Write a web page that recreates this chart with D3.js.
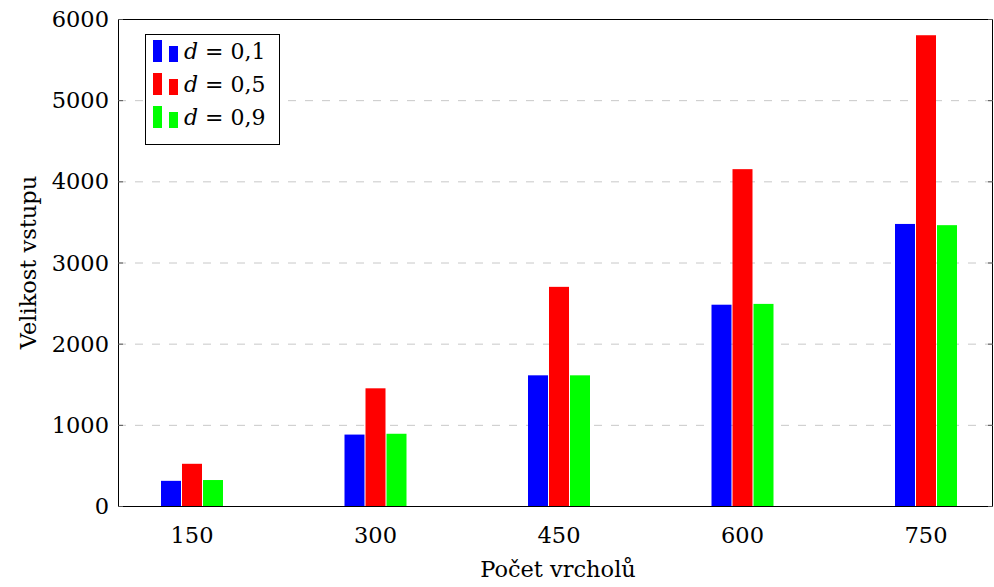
<!DOCTYPE html>
<html>
<head>
<meta charset="utf-8">
<script src="https://cdn.jsdelivr.net/npm/d3@7"></script>
<style>
  body { margin: 0; background: #fff; }
</style>
</head>
<body>
<div id="chart"></div>
<script>
const categories = [150, 300, 450, 600, 750];
const seriesNames = ['0,1', '0,5', '0,9'];
const seriesColors = ['#0000ff', '#ff0000', '#00ff00'];
const valuesD01 = [310, 880, 1610, 2480, 3475];
const valuesD05 = [520, 1450, 2700, 4150, 5800];
const valuesD09 = [320, 890, 1610, 2490, 3460];
const yTicks = [0, 1000, 2000, 3000, 4000, 5000, 6000];

const width = 994, height = 587;
const margin = { left: 118, right: 1, top: 19, bottom: 81 };
const serif = "'DejaVu Serif', serif";

const svg = d3.select('#chart').append('svg')
    .attr('width', width)
    .attr('height', height)
    .style('font-family', serif);

const x = d3.scaleLinear()
    .domain([150, 750])
    .range([192, 926]);

const y = d3.scaleLinear()
    .domain([0, 6000])
    .range([height - margin.bottom, margin.top]);

const x0 = margin.left, x1 = width - margin.right;

// grid
svg.append('g').selectAll('line')
    .data(yTicks.filter(d => d > 0 && d < 6000))
    .enter().append('line')
    .attr('x1', x0).attr('x2', x1)
    .attr('y1', d => y(d) + 0.5).attr('y2', d => y(d) + 0.5)
    .attr('stroke', '#c8c8c8')
    .attr('stroke-width', 1)
    .attr('stroke-dasharray', '8,9');

// bars
const series = [valuesD01, valuesD05, valuesD09];
const barW = 20, offsets = [-21, 0, 21];
series.forEach((vals, i) => {
    svg.append('g').selectAll('rect')
        .data(vals)
        .enter().append('rect')
        .attr('x', (d, j) => x(categories[j]) + offsets[i] - barW / 2)
        .attr('y', d => y(d))
        .attr('width', barW)
        .attr('height', d => y(0) - y(d))
        .attr('fill', seriesColors[i]);
});

// axis frame
svg.append('rect')
    .attr('x', x0 + 0.5).attr('y', margin.top + 0.5)
    .attr('width', x1 - x0 - 1).attr('height', y(0) - margin.top)
    .attr('fill', 'none')
    .attr('stroke', '#000')
    .attr('stroke-width', 1);

// y ticks
const yAxis = svg.append('g');
yAxis.selectAll('line.l')
    .data(yTicks).enter().append('line')
    .attr('x1', x0).attr('x2', x0 + 5)
    .attr('y1', d => y(d) + 0.5).attr('y2', d => y(d) + 0.5)
    .attr('stroke', '#555');
yAxis.selectAll('line.r')
    .data(yTicks).enter().append('line')
    .attr('x1', x1 - 5).attr('x2', x1)
    .attr('y1', d => y(d) + 0.5).attr('y2', d => y(d) + 0.5)
    .attr('stroke', '#555');
yAxis.selectAll('text')
    .data(yTicks).enter().append('text')
    .attr('x', x0 - 9)
    .attr('y', d => y(d))
    .attr('dy', '0.36em')
    .attr('text-anchor', 'end')
    .attr('font-size', 22.5)
    .text(d => d);

// x labels
svg.append('g').selectAll('text')
    .data(categories).enter().append('text')
    .attr('x', d => x(d))
    .attr('y', 543)
    .attr('text-anchor', 'middle')
    .attr('font-size', 22.5)
    .text(d => d);

// axis titles
svg.append('text')
    .attr('x', 558).attr('y', 577)
    .attr('text-anchor', 'middle')
    .attr('font-size', 22.5)
    .text('Počet vrcholů');

svg.append('text')
    .attr('transform', `translate(36, ${(margin.top + y(0)) / 2}) rotate(-90)`)
    .attr('text-anchor', 'middle')
    .attr('font-size', 22.5)
    .text('Velikost vstupu');

// legend
const legend = svg.append('g');
legend.append('rect')
    .attr('x', 145.5).attr('y', 34.5)
    .attr('width', 134).attr('height', 110)
    .attr('fill', '#fff')
    .attr('stroke', '#000');

seriesNames.forEach((name, i) => {
    const cy = 51 + i * 33;
    legend.append('rect')
        .attr('x', 153).attr('y', cy - 11)
        .attr('width', 9).attr('height', 22)
        .attr('fill', seriesColors[i]);
    legend.append('rect')
        .attr('x', 169).attr('y', cy - 5)
        .attr('width', 9).attr('height', 16)
        .attr('fill', seriesColors[i]);
    const t = legend.append('text')
        .attr('x', 184).attr('y', cy + 8)
        .attr('font-size', 22);
    t.append('tspan').attr('font-style', 'italic').text('d');
    t.append('tspan').attr('dx', 7).text('=');
    t.append('tspan').attr('dx', 7).text(name);
});
</script>
</body>
</html>
